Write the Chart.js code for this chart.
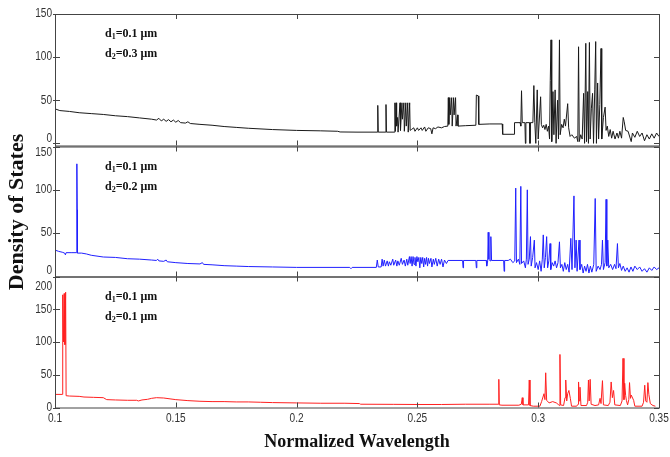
<!DOCTYPE html>
<html>
<head>
<meta charset="utf-8">
<script src="https://cdn.jsdelivr.net/npm/chart.js@4"></script>
<style>
  body { margin: 0; background: #fff; }
  #wrap { position: relative; width: 670px; height: 457px; }
  canvas { position: absolute; left: 0; top: 0; }
</style>
</head>
<body>
<div id="wrap">
  <canvas id="c1" width="670" height="457"></canvas>
  <canvas id="c2" width="670" height="457"></canvas>
  <canvas id="c3" width="670" height="457"></canvas>
</div>
<script>
// tick values / labels
var xTicks = [0.1, 0.15, 0.2, 0.25, 0.3, 0.35];
var xTickLabels = ['0.1', '0.15', '0.2', '0.25', '0.3', '0.35'];
var yTicksTop = [0, 50, 100, 150];
var yTicksMid = [0, 50, 100, 150];
var yTicksBot = [0, 50, 100, 150, 200];

// layer thicknesses shown in each panel
var d1Values = ['0.1', '0.1', '0.1'];
var d2Values = ['0.3', '0.2', '0.1'];

// [normalized wavelength, density of states]
var dosTop = [
  [0.1000,40],[0.1020,38],[0.1060,37],[0.1100,35.5],[0.1150,34.5],[0.1200,33.5],[0.1250,32],[0.1300,31],
  [0.1350,29.5],[0.1400,28],[0.1420,27],[0.1430,29],[0.1440,26],[0.1450,28],[0.1460,25.5],[0.1470,27.5],
  [0.1480,25],[0.1490,27],[0.1500,24.5],[0.1510,26.5],[0.1520,24],[0.1540,23.5],[0.1550,25],[0.1560,23],
  [0.1600,22],[0.1650,21],[0.1700,19.5],[0.1750,18.5],[0.1800,17.5],[0.1900,16],[0.2000,15],[0.2100,14.5],
  [0.2170,14],[0.2180,13.2],[0.2250,13],[0.2334,13],[0.2336,44],[0.2338,13],[0.2368,13],[0.2370,45],
  [0.2372,13],[0.2405,13],[0.2407,47],[0.2409,14],[0.2412,47],[0.2414,20],[0.2418,30],[0.2420,13],
  [0.2428,47],[0.2430,15],[0.2436,47],[0.2438,28],[0.2444,47],[0.2446,14],[0.2452,47],[0.2454,20],
  [0.2460,47],[0.2462,13],[0.2468,47],[0.2470,15],[0.2475,16],[0.2485,18],[0.2490,14],[0.2500,18],
  [0.2505,15],[0.2515,18],[0.2520,15],[0.2530,19],[0.2535,14],[0.2545,18],[0.2555,17],[0.2560,11],
  [0.2565,18],[0.2575,17],[0.2585,19],[0.2600,18],[0.2612,19.5],[0.2626,20],[0.2628,53],[0.2630,22],
  [0.2634,53],[0.2636,33],[0.2642,53],[0.2644,20],[0.2650,53],[0.2652,33],[0.2658,53],[0.2660,20],
  [0.2666,33],[0.2668,20],[0.2700,20.5],[0.2742,21],[0.2744,56],[0.2752,55],[0.2754,22],[0.2800,22.5],
  [0.2851,22.5],[0.2853,10.5],[0.2900,10.5],[0.2902,24],[0.2925,24],[0.2928,20],[0.2931,61],[0.2934,24],
  [0.2945,24],[0.2947,0],[0.2949,24],[0.2964,24],[0.2966,0],[0.2968,24],[0.2978,24],[0.2982,67],
  [0.2986,24],[0.2990,0],[0.2996,62],[0.3000,5],[0.3010,54],[0.3013,22],[0.3018,18],[0.3023,21],
  [0.3028,16],[0.3033,22],[0.3038,14],[0.3043,20],[0.3047,5],[0.3050,73],[0.3053,120],[0.3056,2],
  [0.3061,60],[0.3065,10],[0.3070,62],[0.3074,0],[0.3080,50],[0.3084,5],[0.3088,120],[0.3091,10],
  [0.3097,22],[0.3103,18],[0.3108,28],[0.3113,20],[0.3122,46],[0.3126,18],[0.3132,8],[0.3139,10],
  [0.3150,6],[0.3159,8],[0.3164,2],[0.3167,112],[0.3170,2],[0.3176,10],[0.3182,5],[0.3188,58],
  [0.3192,0],[0.3197,116],[0.3200,2],[0.3205,60],[0.3208,0],[0.3212,117],[0.3215,5],[0.3220,40],
  [0.3225,58],[0.3229,0],[0.3234,62],[0.3238,118],[0.3241,0],[0.3246,70],[0.3250,5],[0.3255,45],
  [0.3260,110],[0.3263,5],[0.3270,30],[0.3277,42],[0.3281,15],[0.3286,20],[0.3292,8],[0.3298,16],
  [0.3304,6],[0.3310,14],[0.3318,5],[0.3326,12],[0.3332,6],[0.3338,14],[0.3345,6],[0.3352,30],
  [0.3356,25],[0.3362,15],[0.3372,14],[0.3385,2],[0.3390,12],[0.3400,7],[0.3410,14],[0.3420,8],
  [0.3430,12],[0.3440,3],[0.3450,10],[0.3460,5],[0.3470,11],[0.3480,6],[0.3490,12],[0.3500,8]
];

var dosMid = [
  [0.1000,30.5],[0.1015,29],[0.1030,28],[0.1040,27],[0.1043,25],[0.1046,27.5],[0.1070,27.5],[0.1089,27.5],
  [0.1090,77],[0.1091,130],[0.1092,77],[0.1093,27],[0.1110,27],[0.1130,26],[0.1150,24.5],[0.1200,22.5],
  [0.1250,22],[0.1300,20.5],[0.1350,20],[0.1400,19],[0.1420,18.5],[0.1425,20],[0.1430,18],[0.1450,17.5],
  [0.1460,19],[0.1465,17],[0.1500,16],[0.1550,15],[0.1600,14.5],[0.1610,16],[0.1615,14],[0.1650,13.5],
  [0.1700,12.5],[0.1750,12],[0.1800,11.5],[0.1900,11],[0.2000,10.5],[0.2220,10.5],[0.2225,9],[0.2230,10.5],
  [0.2330,10.5],[0.2334,19],[0.2338,11],[0.2350,11],[0.2354,20],[0.2358,12],[0.2363,19],[0.2368,12],
  [0.2375,18],[0.2380,12],[0.2384,17],[0.2390,13],[0.2398,20],[0.2402,13],[0.2410,19],[0.2415,12],
  [0.2419,18],[0.2425,13],[0.2433,21],[0.2438,14],[0.2445,19],[0.2450,12],[0.2456,20],[0.2460,13],
  [0.2467,23],[0.2470,15],[0.2474,23],[0.2478,12],[0.2482,23],[0.2486,14],[0.2490,22],[0.2494,12],
  [0.2498,23],[0.2502,17],[0.2506,22],[0.2510,10],[0.2514,22],[0.2518,15],[0.2522,22],[0.2526,11],
  [0.2530,21],[0.2534,14],[0.2538,22],[0.2542,12],[0.2546,21],[0.2550,15],[0.2556,21],[0.2560,11],
  [0.2566,20],[0.2570,14],[0.2576,21],[0.2582,12],[0.2588,20],[0.2594,14],[0.2600,20],[0.2606,11],
  [0.2612,19],[0.2620,15],[0.2627,18.5],[0.2687,18.5],[0.2689,10],[0.2691,18.5],[0.2742,18.5],[0.2744,10],
  [0.2746,18.5],[0.2785,18.5],[0.2787,12],[0.2791,18],[0.2793,51],[0.2796,20],[0.2801,18],[0.2804,46],
  [0.2807,18.5],[0.2857,18.5],[0.2859,6],[0.2861,18.5],[0.2876,18.5],[0.2885,20],[0.2895,16],[0.2903,18],
  [0.2907,102],[0.2910,16],[0.2918,20],[0.2924,14],[0.2928,104],[0.2931,15],[0.2940,18],[0.2947,10],
  [0.2951,20],[0.2955,100],[0.2958,14],[0.2963,20],[0.2968,46],[0.2971,12],[0.2977,22],[0.2984,42],
  [0.2987,10],[0.2993,16],[0.3000,8],[0.3006,18],[0.3012,6],[0.3017,20],[0.3021,48],[0.3025,10],
  [0.3030,22],[0.3035,46],[0.3039,10],[0.3044,18],[0.3049,38],[0.3052,8],[0.3058,16],[0.3064,12],
  [0.3070,18],[0.3076,10],[0.3082,16],[0.3088,40],[0.3092,10],[0.3098,14],[0.3104,6],[0.3110,16],
  [0.3116,8],[0.3122,14],[0.3128,5],[0.3135,44],[0.3140,8],[0.3148,93],[0.3152,10],[0.3157,42],
  [0.3161,6],[0.3169,42],[0.3173,8],[0.3180,14],[0.3186,4],[0.3192,12],[0.3198,6],[0.3204,14],
  [0.3210,4],[0.3216,12],[0.3222,5],[0.3230,14],[0.3236,90],[0.3240,6],[0.3248,12],[0.3256,8],
  [0.3262,14],[0.3266,42],[0.3270,8],[0.3277,16],[0.3281,89],[0.3284,12],[0.3288,42],[0.3292,10],
  [0.3300,14],[0.3308,8],[0.3316,14],[0.3322,9],[0.3328,38],[0.3332,10],[0.3338,15],[0.3345,7],
  [0.3352,12],[0.3360,6],[0.3368,10],[0.3376,5],[0.3384,11],[0.3392,6],[0.3400,12],[0.3410,8],
  [0.3420,11],[0.3430,6],[0.3440,9],[0.3450,5],[0.3460,10],[0.3470,7],[0.3480,11],[0.3490,8],[0.3500,10]
];

var dosBot = [
  [0.1000,20],[0.1030,20],[0.1032,172],[0.1035,100],[0.1038,174],[0.1041,96],[0.1044,176],[0.1046,18],
  [0.1060,17.5],[0.1100,17],[0.1120,16],[0.1160,15.5],[0.1200,15],[0.1214,12],[0.1250,11.5],[0.1300,11],
  [0.1338,11],[0.1345,10],[0.1360,11.5],[0.1383,12.5],[0.1400,14],[0.1420,15],[0.1450,14.5],[0.1480,13],
  [0.1500,12],[0.1550,10.5],[0.1600,9.5],[0.1650,9],[0.1700,9],[0.1750,8.5],[0.1800,8.5],[0.1850,8],
  [0.1900,7.5],[0.2000,7],[0.2100,6.5],[0.2200,6.5],[0.2260,6],[0.2265,5],[0.2400,4.8],[0.2500,4.6],
  [0.2600,4.6],[0.2700,5],[0.2800,5],[0.2835,5],[0.2837,43],[0.2839,4],[0.2850,3.5],[0.2920,3.5],
  [0.2930,5],[0.2934,15],[0.2937,4],[0.2960,4],[0.2963,42],[0.2966,3],[0.2980,2],[0.3007,2],
  [0.3014,9],[0.3024,21],[0.3028,12],[0.3031,53],[0.3035,11],[0.3045,7],[0.3060,9],[0.3075,7],
  [0.3085,4],[0.3088,3],[0.3090,81],[0.3093,4],[0.3105,3],[0.3111,15],[0.3114,42],[0.3118,10],
  [0.3122,21],[0.3127,26],[0.3133,14],[0.3138,2],[0.3159,2],[0.3165,5],[0.3167,39],[0.3170,10],
  [0.3173,31],[0.3177,3],[0.3200,3],[0.3205,8],[0.3208,42],[0.3211,10],[0.3215,43],[0.3219,5],
  [0.3235,3],[0.3250,4],[0.3256,14],[0.3260,6],[0.3266,41],[0.3270,4],[0.3290,3],[0.3297,8],
  [0.3302,39],[0.3307,15],[0.3312,26],[0.3317,4],[0.3340,3],[0.3347,10],[0.3351,75],[0.3355,12],
  [0.3358,37],[0.3362,18],[0.3365,11],[0.3370,4],[0.3375,12],[0.3378,38],[0.3382,14],[0.3385,19],
  [0.3395,11],[0.3400,2],[0.3430,2],[0.3436,8],[0.3441,34],[0.3445,10],[0.3450,8],[0.3454,38],
  [0.3458,20],[0.3464,6],[0.3475,3],[0.3485,2]
];

var tickFont = '12px "Liberation Sans Narrow", "Arial Narrow", "Liberation Sans", sans-serif';
var serifBold = '"Liberation Serif", "Times New Roman", serif';

// narrow-looking tick label: squeeze horizontally around its anchor
function tickText(ctx, s, px, py) {
  ctx.save();
  ctx.translate(px, py);
  ctx.scale(0.84, 1);
  ctx.fillText(s, 0, 0);
  ctx.restore();
}

// box, inward ticks, tick labels, annotations and axis titles
var frame = {
  id: 'frame',
  afterDraw: function (chart, args, o) {
    var ctx = chart.ctx, a = chart.chartArea;
    var x = chart.scales.x, y = chart.scales.y;
    ctx.save();
    ctx.strokeStyle = '#444';
    ctx.lineWidth = 1;
    ctx.strokeRect(a.left + 0.5, a.top + 0.5, a.right - a.left, a.bottom - a.top);
    ctx.beginPath();
    xTicks.forEach(function (v) {
      var px = Math.round(x.getPixelForValue(v)) + 0.5;
      ctx.moveTo(px, a.top); ctx.lineTo(px, a.top + 5);
      ctx.moveTo(px, a.bottom); ctx.lineTo(px, a.bottom - 5);
    });
    o.yTicks.forEach(function (v) {
      var py = Math.round(y.getPixelForValue(v)) + 0.5;
      ctx.moveTo(a.left - 2, py); ctx.lineTo(a.left + 5, py);
      ctx.moveTo(a.right, py); ctx.lineTo(a.right - 5, py);
    });
    ctx.stroke();

    ctx.fillStyle = '#333';
    ctx.font = tickFont;
    ctx.textAlign = 'right';
    ctx.textBaseline = 'middle';
    o.yTicks.forEach(function (v, i) {
      var py = y.getPixelForValue(v);
      if (i === 0) py += o.shiftLow;
      if (i === o.yTicks.length - 1) py += o.shiftHigh;
      tickText(ctx, String(v), a.left - 3, py);
    });

    if (o.xLabels) {
      ctx.textAlign = 'center';
      xTicks.forEach(function (v, i) {
        tickText(ctx, xTickLabels[i], x.getPixelForValue(v), a.bottom + 11);
      });
    }

    // d1 / d2 annotation with subscripts
    ctx.fillStyle = '#111';
    ctx.textAlign = 'left';
    ctx.textBaseline = 'alphabetic';
    [['1', d1Values[o.panel]], ['2', d2Values[o.panel]]].forEach(function (p, k) {
      var tx = 105, ty = a.top + 23 + k * 20;
      ctx.font = 'bold 12px ' + serifBold;
      ctx.fillText('d', tx, ty);
      tx += ctx.measureText('d').width;
      ctx.font = 'bold 8px ' + serifBold;
      ctx.fillText(p[0], tx, ty + 2);
      tx += ctx.measureText(p[0]).width;
      ctx.font = 'bold 12px ' + serifBold;
      ctx.fillText('=' + p[1] + ' \u03bcm', tx, ty);
    });

    if (o.titles) {
      ctx.fillStyle = '#111';
      ctx.font = 'bold 18px ' + serifBold;
      ctx.textAlign = 'center';
      ctx.textBaseline = 'middle';
      ctx.fillText('Normalized Wavelength', 357, 442);
      ctx.save();
      ctx.translate(17, 212);
      ctx.rotate(-Math.PI / 2);
      ctx.font = 'bold 22px ' + serifBold;
      ctx.fillText('Density of States', 0, 0);
      ctx.restore();
    }
    ctx.restore();
  }
};

function makePanel(id, series, color, yMin, yMax, top, bottom, frameOpts) {
  return new Chart(document.getElementById(id), {
    type: 'line',
    data: {
      datasets: [{
        data: series.map(function (p) { return { x: p[0], y: p[1] }; }),
        borderColor: color,
        borderWidth: 1,
        pointRadius: 0,
        tension: 0,
        fill: false
      }]
    },
    options: {
      responsive: false,
      animation: false,
      events: [],
      layout: { padding: { left: 55, right: 670 - 659, top: top, bottom: 457 - bottom } },
      scales: {
        x: { type: 'linear', min: 0.1, max: 0.35, display: false },
        y: { type: 'linear', min: yMin, max: yMax, display: false }
      },
      plugins: {
        legend: { display: false },
        tooltip: { enabled: false },
        frame: frameOpts
      }
    },
    plugins: [frame]
  });
}

makePanel('c1', dosTop, '#1a1a1a', -2.5, 150, 14, 145.5,
  { panel: 0, yTicks: yTicksTop, shiftLow: -5, shiftHigh: 0, xLabels: false, titles: false });
makePanel('c2', dosMid, '#2020ff', 0, 150, 146.5, 276.5,
  { panel: 1, yTicks: yTicksMid, shiftLow: -6, shiftHigh: 6, xLabels: false, titles: false });
makePanel('c3', dosBot, '#ff2020', 0, 200, 276.5, 407.5,
  { panel: 2, yTicks: yTicksBot, shiftLow: 0, shiftHigh: 10, xLabels: true, titles: true });
</script>
</body>
</html>
